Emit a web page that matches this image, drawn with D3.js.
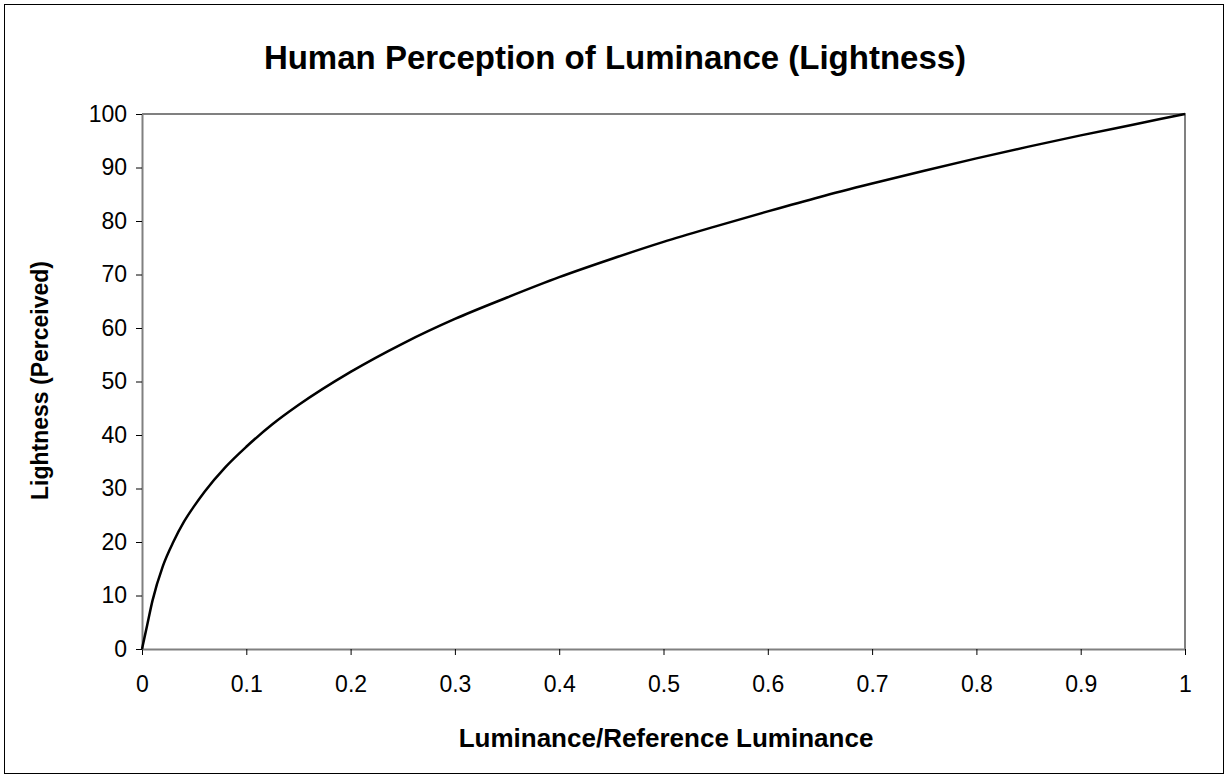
<!DOCTYPE html>
<html lang="en">
<head>
    <script src="https://cdn.jsdelivr.net/npm/d3@7"></script>
    <meta charset="UTF-8">
    <title>Human Perception of Luminance</title>
    <style>
        body {
            margin: 0;
            background: #fff;
        }
        svg text {
            font-family: "Liberation Sans", Arial, sans-serif;
            fill: #000;
        }
        .axis path {
            stroke: #808080;
            stroke-width: 2px;
        }
        .axis line {
            stroke: #000;
        }
        .axis text {
            font-size: 23px;
        }
    </style>
</head>
<body>
<svg id="chart"></svg>
<script>
    // values
    var luminance = [0, 0.002, 0.005, 0.01, 0.02, 0.03, 0.04, 0.05, 0.06, 0.08, 0.1, 0.125, 0.15,
        0.2, 0.25, 0.3, 0.35, 0.4, 0.45, 0.5, 0.55, 0.6, 0.65, 0.7, 0.75, 0.8, 0.85, 0.9, 0.95, 1];
    var lightness = [0, 1.8, 4.5, 9, 15.5, 20, 23.7, 26.7, 29.4, 34, 37.8, 42, 45.6,
        51.8, 57.1, 61.7, 65.7, 69.5, 72.9, 76.1, 79, 81.8, 84.5, 87, 89.4, 91.7, 93.9, 96, 98, 100];
    var xTicks = [0, 0.1, 0.2, 0.3, 0.4, 0.5, 0.6, 0.7, 0.8, 0.9, 1];
    var yTicks = [0, 10, 20, 30, 40, 50, 60, 70, 80, 90, 100];

    var width = 1225;
    var height = 775;
    var margin = {top: 114, right: 40, bottom: 126, left: 142};

    var svg = d3.select("#chart")
            .attr("width", width)
            .attr("height", height);

    // outer frame
    svg.append("rect")
            .attr("x", 4.5)
            .attr("y", 4.5)
            .attr("width", width - 6)
            .attr("height", height - 6)
            .attr("fill", "none")
            .attr("stroke", "#000")
            .attr("stroke-width", 1);

    var x = d3.scaleLinear().domain([0, 1]).range([margin.left, width - margin.right]);
    var y = d3.scaleLinear().domain([0, 100]).range([height - margin.bottom, margin.top]);

    // plot area border (top / right)
    svg.append("path")
            .attr("d", "M" + x(0) + "," + y(100) + "H" + x(1) + "V" + y(0))
            .attr("fill", "none")
            .attr("stroke", "#808080")
            .attr("stroke-width", 2);

    svg.append("g")
            .attr("class", "axis")
            .attr("transform", "translate(0," + y(0) + ")")
            .call(d3.axisBottom(x).tickValues(xTicks).tickSize(6).tickSizeOuter(0)
                    .tickPadding(21).tickFormat(function (d) { return String(d); }));

    svg.append("g")
            .attr("class", "axis")
            .attr("transform", "translate(" + x(0) + ",0)")
            .call(d3.axisLeft(y).tickValues(yTicks).tickSize(6).tickSizeOuter(0)
                    .tickPadding(9).tickFormat(d3.format("d")));

    var line = d3.line()
            .x(function (d, i) { return x(luminance[i]); })
            .y(function (d) { return y(d); })
            .curve(d3.curveMonotoneX);

    svg.append("path")
            .datum(lightness)
            .attr("d", line)
            .attr("fill", "none")
            .attr("stroke", "#000")
            .attr("stroke-width", 2.5);

    svg.append("text")
            .attr("x", 615)
            .attr("y", 69)
            .attr("text-anchor", "middle")
            .style("font-size", "33px")
            .style("font-weight", "bold")
            .text("Human Perception of Luminance (Lightness)");

    svg.append("text")
            .attr("x", 666)
            .attr("y", 747)
            .attr("text-anchor", "middle")
            .style("font-size", "26px")
            .style("font-weight", "bold")
            .text("Luminance/Reference Luminance");

    svg.append("text")
            .attr("transform", "translate(48," + (y(50) - 1) + ") rotate(-90)")
            .attr("text-anchor", "middle")
            .style("font-size", "23px")
            .style("font-weight", "bold")
            .text("Lightness (Perceived)");
</script>
</body>
</html>
